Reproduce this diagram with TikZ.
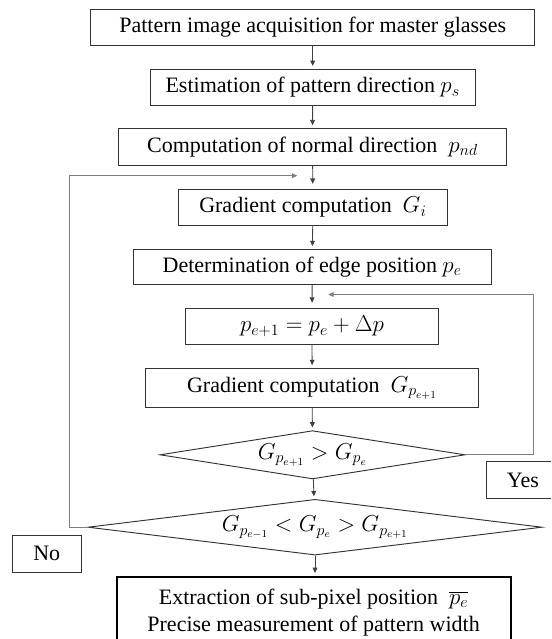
\documentclass[tikz,border=0pt]{standalone}
\usepackage{fontspec}
\setmainfont{Liberation Serif}
\usetikzlibrary{arrows.meta,shapes.geometric}
\begin{document}
\begin{tikzpicture}[x=0.75pt,y=-0.75pt,
  every node/.style={font=\fontsize{16.5}{20}\selectfont},
  box/.style={draw=black!80,line width=0.7pt,inner sep=0pt,rectangle},
  dia/.style={draw=black!80,line width=0.7pt,inner sep=0pt,diamond},
  arr/.style={draw=black!75,line width=0.6pt,-{Triangle[length=4pt,width=3.6pt]},shorten >=2pt},
  loopline/.style={draw=black!50,line width=0.6pt,-{Triangle[length=4pt,width=3.6pt]}}]
\useasboundingbox (0,0) rectangle (551,639);
\clip (0,0) rectangle (551,639);
\node[box,minimum width=333.2pt,minimum height=27.3pt] (b1) at (312.7,27.5) {Pattern image acquisition for master glasses};
\node[box,minimum width=243.5pt,minimum height=27.2pt] (b2) at (312.7,87.2) {Estimation of pattern direction $p_s$};
\node[box,minimum width=291.2pt,minimum height=27.5pt] (b3) at (312.5,146.7) {Computation of normal direction\ \ $p_{nd}$};
\node[box,minimum width=201.6pt,minimum height=26.8pt] (b4) at (312.9,207.2) {Gradient computation\ \ $G_i$};
\node[box,minimum width=268.5pt,minimum height=26.6pt] (b5) at (312.2,267) {Determination of edge position $p_e$};
\node[box,minimum width=189.8pt,minimum height=27pt] (b6) at (312,326.3) {$p_{e+1}=p_e+\Delta p$};
\node[box,minimum width=249.6pt,minimum height=29.3pt] (b7) at (312.2,387.8) {Gradient computation\ \ $G_{p_{e+1}}$};
\node[dia,minimum width=228.8pt,minimum height=36.2pt,shape aspect=6.3] (d1) at (312.5,454.8) {$G_{p_{e+1}}>G_{p_e}$};
\node[dia,minimum width=340.5pt,minimum height=41.8pt,shape aspect=8.1] (d2) at (315,527.2) {$G_{p_{e-1}}<G_{p_e}>G_{p_{e+1}}$};
\node[box,minimum width=54.2pt,minimum height=27.5pt] (yes) at (522.9,480) {Yes};
\node[box,minimum width=51.5pt,minimum height=28pt] (no) at (46.7,553.7) {No};
\node[draw=black,line width=1.5pt,inner sep=0pt,minimum width=295.4pt,minimum height=53.5pt,align=center] (fin) at (313.6,612.3)
  {Extraction of sub-pixel position\ \ $\overline{p_e}$\\Precise measurement of pattern width};
\coordinate (fbl) at (297.3,175.7);
\coordinate (lc) at (69,527.2);
\coordinate (fbr) at (328.3,294.5);
\coordinate (rc) at (533.5,454.8);
\draw[arr] (b1) -- (b2);
\draw[arr] (b2) -- (b3);
\draw[arr,shorten >=3.8pt] (b3) -- (b4);
\draw[arr] (b4) -- (b5);
\draw[arr,shorten >=3.8pt] (b5) -- (b6);
\draw[arr] (b6) -- (b7);
\draw[arr] (b7) -- (d1);
\draw[arr] (d1) -- (d2);
\draw[arr] (d2.south) -- (d2.south |- fin.north);
\draw[loopline] (d2.west) -- (lc) |- (fbl);
\draw[loopline] (d1.east) -- (rc) |- (fbr);
\end{tikzpicture}
\end{document}
